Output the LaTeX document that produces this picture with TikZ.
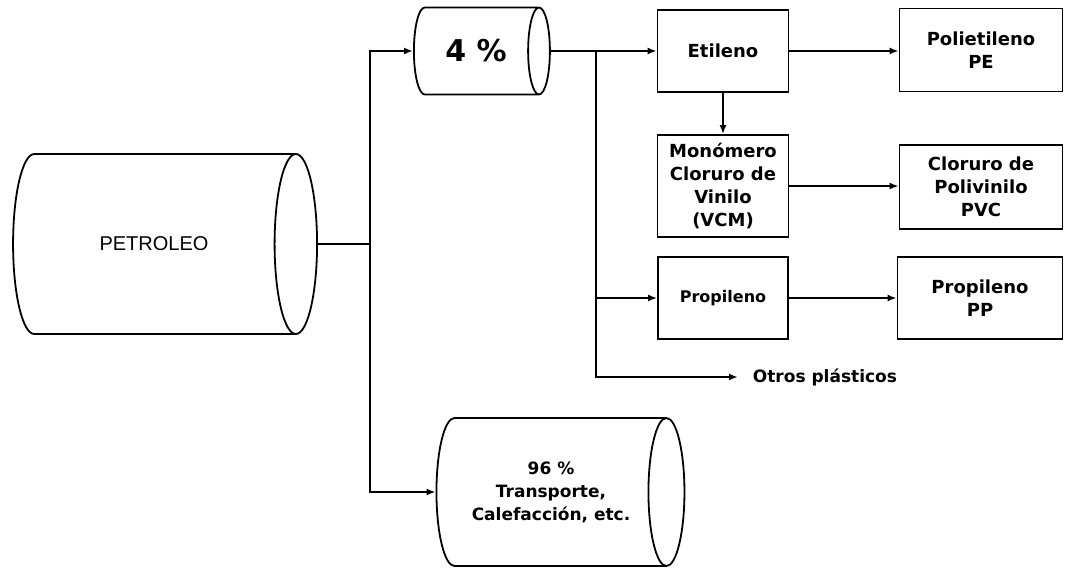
\documentclass[tikz,border=0pt]{standalone}
\usepackage{fontspec}
\setmainfont{DejaVu Sans}
\newfontfamily\petrofont{Liberation Sans}
\usetikzlibrary{shapes.geometric,arrows.meta}

\begin{document}
\begin{tikzpicture}[x=1pt,y=-1pt,line width=1.8pt,
  tank/.style={cylinder, draw, align=center, inner sep=0pt},
  stage/.style={draw, rectangle, align=center, inner sep=0pt,
    font=\fontsize{18}{23}\selectfont\bfseries},
  flow/.style={-{Latex[length=9pt,width=7pt]}}]

\useasboundingbox (0,0) rectangle (1065,568);

% Tanks (minimum height runs along the axis)
\node[tank, aspect=3.0, minimum height=304pt, minimum width=180pt,
  font=\petrofont\fontsize{20}{24}\selectfont] (petroleo) at (154,244) {PETROLEO};
\node[tank, aspect=0.96, minimum height=136pt, minimum width=87pt,
  font=\fontsize{30}{36}\selectfont\bfseries] (cuatro) at (476,51) {4 \%};
\node[tank, aspect=0.59, minimum height=248pt, minimum width=148pt,
  font=\fontsize{17}{23}\selectfont\bfseries] (noventa) at (551,492)
  {96 \%\\Transporte,\\Calefacción, etc.};

% Process boxes
\node[stage, minimum width=131pt, minimum height=82pt] (etileno) at (723,51) {Etileno};
\node[stage, minimum width=163pt, minimum height=83pt] (pe) at (981,50) {Polietileno\\PE};
\node[stage, minimum width=131pt, minimum height=102pt] (vcm) at (723,186)
  {Monómero\\Cloruro de\\Vinilo\\(VCM)};
\node[stage, minimum width=163pt, minimum height=84pt] (pvc) at (981,187)
  {Cloruro de\\Polivinilo\\PVC};
\node[stage, minimum width=130pt, minimum height=82pt,
  font=\fontsize{16}{20}\selectfont\bfseries] (propileno) at (723,298) {Propileno};
\node[stage, minimum width=165pt, minimum height=82pt] (pp) at (980,298) {Propileno\\PP};
\node[anchor=west, inner sep=0pt, inner xsep=14pt,
  font=\fontsize{17}{20}\selectfont\bfseries] (otros) at (738,377) {Otros plásticos};

% Connectors
\coordinate (split) at (370,244);
\coordinate (branch) at (596,51);
\draw (petroleo.east) -- (split);
\draw[flow] (split) |- (cuatro.west);
\draw[flow] (split) |- (noventa.west);
\draw[flow] (cuatro.east) -- (etileno.west);
\draw[flow] (branch) |- (propileno.west);
\draw[flow] (branch) |- (otros.west);
\draw[flow] (etileno.east) -- (etileno.east -| pe.west);
\draw[flow] (etileno.south) -- (vcm.north);
\draw[flow] (vcm.east) -- (vcm.east -| pvc.west);
\draw[flow] (propileno.east) -- (pp.west);

\end{tikzpicture}
\end{document}
